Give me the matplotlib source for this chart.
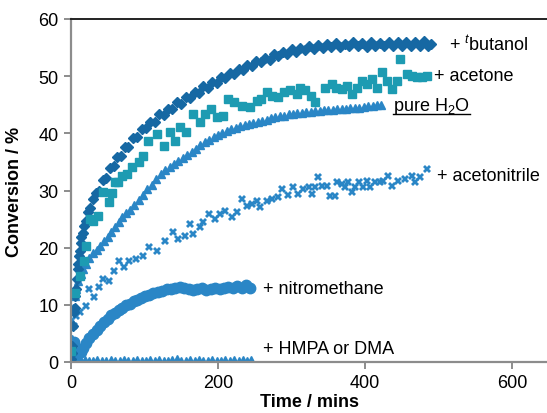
import matplotlib
matplotlib.use("Agg")
from matplotlib import pyplot as plt
from matplotlib.lines import Line2D

plt.rcParams['font.family'] = ['Liberation Sans', 'DejaVu Sans']
plt.rcParams['mathtext.fontset'] = 'custom'
plt.rcParams['mathtext.rm'] = 'Liberation Sans'
plt.rcParams['mathtext.it'] = 'Liberation Sans:italic'

# + tbutanol (diamonds)
t_but = [0, 1, 2, 3, 4, 5, 6, 7, 8, 9, 10, 11, 12, 13, 14,
         16, 18, 20, 23, 26, 30, 34, 38, 43, 48, 53, 58, 63, 68, 73, 78,
         84, 90, 96, 102, 108, 114, 120, 126, 132, 138,
         144, 150, 156, 162, 168, 174, 180, 186, 192, 198,
         204, 210, 216, 222, 228, 234, 240, 246, 252, 258,
         264, 270, 276, 282, 288, 294, 300, 306, 312, 318,
         324, 330, 336, 342, 348, 354, 360, 366, 372, 378,
         384, 390, 396, 402, 408, 414, 420, 426, 432, 438,
         444, 450, 456, 462, 468, 474, 480, 486, 490]
v_but = [0.5, 1.5, 2.8, 6.3, 8.7, 9.5, 11.5, 12.8, 14.5, 16.3, 17.2, 18.5, 19.4, 20.8, 21.8,
         22.6, 23.8, 24.6, 26.2, 26.9, 28.5, 29.6, 30.0, 31.8, 32.1, 34.0, 34.2, 35.8, 36.0, 37.6, 37.6,
         39.2, 39.4, 40.8, 40.9, 42.0, 42.0, 43.3, 43.2, 44.3, 44.2,
         45.4, 45.2, 46.4, 46.2, 47.3, 47.1, 48.2, 48.0, 49.0, 48.8,
         49.9, 49.7, 50.6, 50.4, 51.3, 51.0, 52.0, 51.7, 52.7, 52.4,
         53.2, 52.9, 53.8, 53.5, 54.2, 53.9, 54.7, 54.3, 55.0, 54.5,
         55.2, 54.8, 55.5, 55.0, 55.6, 55.1, 55.8, 55.1, 55.7, 55.2,
         55.9, 55.2, 55.8, 55.1, 55.9, 55.2, 55.8, 55.3, 56.0, 55.2,
         55.9, 55.3, 56.0, 55.2, 55.9, 55.3, 56.1, 55.3, 55.7]

# + acetone (squares)
t_ace = [0, 5, 12, 17, 21, 26, 30, 37, 44, 51, 56, 60, 64, 69, 76, 83, 92, 98, 105, 117,
         126, 135, 141, 148, 157, 166, 175, 182, 191, 198, 207, 214, 221, 232, 244,
         253, 259, 266, 273, 282, 289, 298, 307, 312, 318, 327, 332, 346, 355, 361,
         368, 375, 382, 389, 396, 402, 409, 416, 423, 430, 436, 443, 448, 457, 464,
         470, 477, 484]
v_ace = [2, 12, 15, 17.7, 20.3, 25, 24.7, 25.6, 29.8, 28, 29.5, 31.4, 31.5, 32.6, 32.8,
         34.1, 34.9, 36.1, 38.7, 39.9, 37.8, 40.2, 38.7, 41.1, 40.2, 43.4, 41.9, 43.4, 44.3, 42.8,
         43.1, 46, 45.4, 44.8, 44.6, 45.7, 46, 47.2, 46.6, 46.3, 47.2, 47.5, 46.9, 48, 47.5,
         46.6, 45.4, 48, 48.6, 48, 47.8, 48.3, 46.9, 48, 49.2, 48.6, 49.5, 48, 50.7, 49.2,
         47.8, 49.2, 53, 50.4, 50.1, 49.8, 49.8, 50.1]

# pure H2O (triangles)
t_h2o = [0, 1, 2, 3, 5, 7, 10, 13, 16, 20, 25, 30, 35, 40, 45, 50, 55, 60, 65, 70,
         75, 80, 86, 92, 98, 104, 110, 116, 122, 128, 134, 140, 146, 152, 158, 164, 170, 176, 182, 188,
         194, 200, 206, 212, 218, 224, 230, 236, 242, 248, 254, 260, 266, 272, 278, 284, 290, 296, 302, 308,
         314, 320, 326, 332, 338, 344, 350, 356, 362, 368, 374, 380, 386, 392, 398, 404, 410, 416, 422]
v_h2o = [1.5, 4, 7, 9.5, 11.5, 12.8, 14.2, 15.4, 16.3, 17.2, 18.2, 19, 19.6, 20.3, 21.1, 21.9, 22.8, 23.7, 24.5, 25.3,
         26, 26.6, 27.5, 28.4, 29.2, 30.2, 31, 32, 32.8, 33.5, 34.1, 34.7, 35.2, 35.7, 36.2, 36.8, 37.3, 37.9, 38.5, 38.9,
         39.3, 39.7, 40.1, 40.4, 40.7, 40.9, 41.2, 41.4, 41.6, 41.8, 42, 42.1, 42.3, 42.6, 42.8, 43, 43.1, 43.3, 43.4, 43.5,
         43.6, 43.7, 43.8, 43.9, 43.9, 44, 44, 44.1, 44.2, 44.3, 44.3, 44.4, 44.5, 44.5, 44.6, 44.7, 44.8, 44.9, 45]

# + acetonitrile
t_acn = [2, 4, 7, 12, 20, 25, 31, 38, 43, 52, 59, 65, 72, 79, 88, 98, 106, 117, 128, 139,
         146, 155, 162, 166, 176, 180, 187, 196, 203, 210, 219, 226, 233, 239, 246, 253, 257, 266, 273, 282,
         287, 295, 302, 309, 316, 323, 328, 332, 336, 341, 348, 352, 359, 362, 369, 373, 377, 382, 386, 391,
         397, 402, 407, 414, 420, 424, 431, 436, 445, 454, 464, 468, 475, 484]
v_acn = [1.5, 6.3, 8, 8.8, 9.8, 12.8, 11.4, 13.1, 14.5, 14.2, 15.9, 17.7, 16.6, 17.7, 18, 18.5, 20.1, 19.4, 21.2, 22.7,
         21.5, 22, 24.1, 22.4, 23.6, 24.5, 25.9, 25, 25.9, 26.4, 25.4, 26.2, 28.5, 27.3, 27.6, 28.2, 27.1, 28.2, 28.5, 28.9,
         30.3, 29.2, 30.6, 29.4, 30.3, 30.6, 29.4, 30.6, 32.4, 30.8, 30.8, 29, 29, 31.5, 31.1, 30.6, 31.5, 29.7, 30.6, 31.5,
         30.6, 31.7, 30.6, 31.5, 31.5, 31.7, 32.5, 30.8, 31.7, 32, 32.5, 31.5, 32.4, 33.8]

# + nitromethane (circles)
t_nm = [0, 2, 4, 6, 8, 10, 13, 16, 20, 25, 30, 35, 40, 45, 50, 55, 60, 65, 70, 75,
        80, 85, 90, 95, 100, 106, 112, 118, 124, 130, 136, 142, 148, 154, 160, 166, 172, 178, 184, 190,
        196, 202, 208, 214, 220, 226, 232, 238, 244]
v_nm = [0.3, 2, 3.5, 1, 1.2, 1.5, 1.8, 2.5, 3.3, 4.2, 4.9, 5.6, 6.3, 7, 7.6, 8.2, 8.6, 9.1, 9.5, 9.9,
        10.2, 10.6, 10.9, 11.2, 11.5, 11.8, 12.1, 12.3, 12.5, 12.7, 12.8, 12.9, 13.1, 12.9, 12.8, 12.6, 12.8, 12.9, 12.6, 12.7,
        12.9, 12.7, 12.9, 13.2, 13.0, 13.3, 12.9, 13.4, 13.0]

# + HMPA or DMA
t_hm = [0, 4, 9, 14, 19, 24, 30, 36, 42, 48, 54, 60, 66, 72, 78, 84, 90, 96, 102, 108,
        114, 120, 126, 132, 138, 144, 150, 156, 162, 168, 174, 180, 186, 192, 198, 204, 210, 216, 222, 228,
        234, 240, 245]
v_hm = [0.2, 1.0, 0.6, 0.4, 0.5, 0.3, 0.4, 0.5, 0.3, 0.4, 0.6, 0.3, 0.4, 0.5, 0.3, 0.4, 0.5, 0.4, 0.3, 0.5,
        0.4, 0.6, 0.3, 0.4, 0.5, 0.7, 0.4, 0.3, 0.5, 0.4, 0.6, 0.4, 0.3, 0.5, 0.4, 0.4, 0.6, 0.3, 0.5, 0.4,
        0.5, 0.4, 0.5]

dark = '#1668a3'
teal = '#1d9bb2'
blue = '#2a86c6'

fig = plt.figure(figsize=(5.47, 4.14), dpi=100)
ax = fig.add_axes([71/547, 51/414, 478/547, 343/414])

ax.plot(t_hm, v_hm, ls='none', marker='^', ms=4.5, color=blue)
ax.plot(t_nm, v_nm, ls='none', marker='o', ms=7.5, color=blue)
ax.plot(t_acn, v_acn, ls='none', marker='X', ms=6, color=blue, mew=0)
ax.plot(t_h2o, v_h2o, ls='none', marker='^', ms=6, color=blue)
ax.plot(t_but, v_but, ls='none', marker='D', ms=5, color=dark)
ax.plot(t_ace, v_ace, ls='none', marker='s', ms=6, color=teal)

fs = 13
ax.text(514, 55.6, '+ $^{t}$butanol', fontsize=fs, va='center')
ax.text(493, 50.2, '+ acetone', fontsize=fs, va='center')
h2o = ax.text(438, 44.9, 'pure H$_2$O', fontsize=fs, va='center')
ax.text(498, 32.7, '+ acetonitrile', fontsize=fs, va='center')
ax.text(261, 12.9, '+ nitromethane', fontsize=fs, va='center')
ax.text(261, 2.3, '+ HMPA or DMA', fontsize=fs, va='center')

ax.set_xlim(0, 650)
ax.set_ylim(0, 60)
ax.set_xticks([0, 200, 400, 600])
ax.set_yticks([0, 10, 20, 30, 40, 50, 60])
ax.set_xlabel('Time / mins', fontsize=fs, fontweight='bold', labelpad=1)
ax.set_ylabel('Conversion / %', fontsize=fs, fontweight='bold', labelpad=11)

for s in ['left', 'bottom']:
    ax.spines[s].set_color('#8c8c8c')
    ax.spines[s].set_linewidth(1.6)
ax.spines['top'].set_color('#222222')
ax.spines['top'].set_linewidth(1.4)
ax.spines['right'].set_visible(False)
ax.tick_params(direction='out', length=5, width=1.4, color='#8c8c8c', labelsize=fs, pad=4)

# underline for "pure H2O"
fig.canvas.draw()
bb = h2o.get_window_extent().transformed(fig.transFigure.inverted())
fig.add_artist(Line2D([bb.x0, bb.x1], [bb.y0 + 0.004, bb.y0 + 0.004], color='black', lw=1, transform=fig.transFigure))

fig.savefig('out.png', dpi=100)
